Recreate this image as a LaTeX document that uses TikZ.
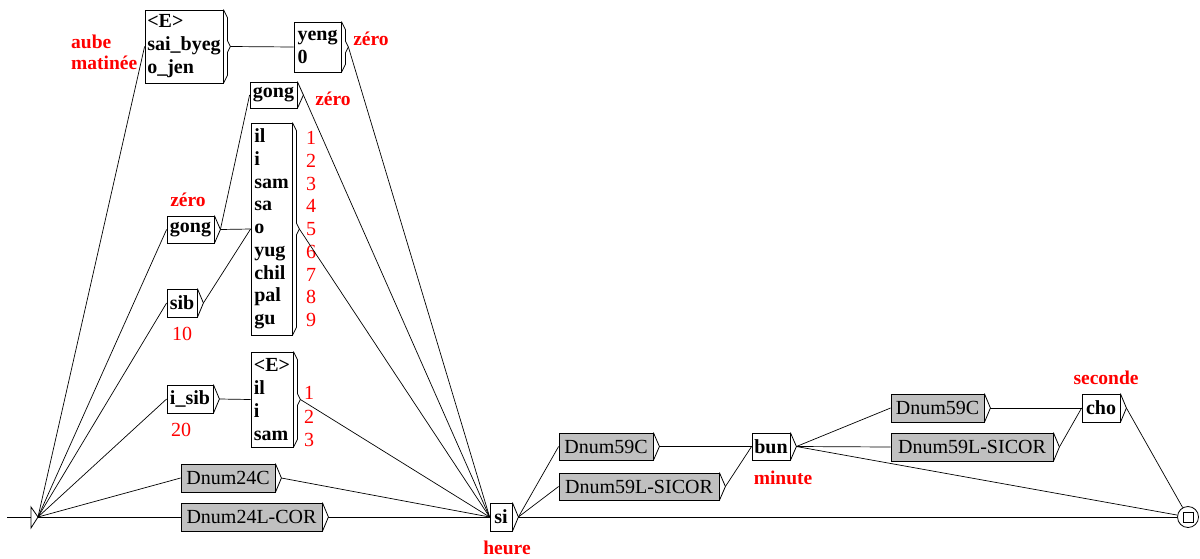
\documentclass[tikz,border=0pt]{standalone}
\usepackage{fontspec}
\setmainfont{Liberation Serif}
\usetikzlibrary{calc}
\definecolor{ugray}{RGB}{192,192,192}
\definecolor{ured}{RGB}{255,0,0}
\newcommand\chev[1]{\draw[boxline] (#1.north east) -- ($(#1.east)+(6,0)$) coordinate (#1t) -- (#1.south east);}
\newcommand\brk[1]{\draw[boxline] (#1.north east) -- ++(4,8) -- ($(#1.east)+(4,-6)$) -- ($(#1.east)+(7,0)$) coordinate (#1t) -- ($(#1.east)+(4,6)$) -- ($(#1.south east)+(4,-8)$) -- (#1.south east);}
\begin{document}
\begin{tikzpicture}[x=1pt,y=-1pt,
  boxline/.style={draw=black, line width=0.8pt},
  wbox/.style={draw=black, line width=0.8pt, fill=white, inner sep=0pt, font=\fontsize{20}{23}\selectfont\bfseries, align=left},
  gbox/.style={draw=black, line width=0.8pt, fill=ugray, inner sep=0pt, font=\fontsize{20}{23}\selectfont},
  lbl/.style={text=ured, font=\fontsize{19.5}{21}\selectfont\bfseries, inner sep=0pt},
  num/.style={text=ured, font=\fontsize{20}{23}\selectfont, inner sep=0pt, align=left},
  conn/.style={draw=black, line width=0.7pt},
]
\useasboundingbox (0,0) rectangle (1200,558);

% boxes
\node[wbox, minimum width=78pt, minimum height=73pt] (b1) at (184,46.5) {<E>\\sai\_byeg\\o\_jen};
\node[wbox, minimum width=47pt, minimum height=50pt] (yeng) at (317.5,47) {yeng\\0};
\node[wbox, minimum width=47pt, minimum height=26pt] (gA) at (273.5,95) {gong};
\node[wbox, minimum width=41pt, minimum height=212pt, font=\fontsize{20}{22.75}\selectfont\bfseries] (big) at (271.5,229) {il\\i\\sam\\sa\\o\\yug\\chil\\pal\\gu};
\node[wbox, minimum width=47pt, minimum height=27pt] (gB) at (190.5,229.5) {gong};
\node[wbox, minimum width=30pt, minimum height=28pt] (sib) at (182,303) {sib};
\node[wbox, minimum width=46pt, minimum height=28pt] (isib) at (190,399) {i\_sib};
\node[wbox, minimum width=42pt, minimum height=95pt, font=\fontsize{20}{23.3}\selectfont\bfseries] (sm) at (272,399.5) {<E>\\il\\i\\sam};
\node[gbox, minimum width=94pt, minimum height=28pt] (d24c) at (228,478) {Dnum24C};
\node[gbox, minimum width=141pt, minimum height=28pt] (d24l) at (251.5,517) {Dnum24L-COR};
\node[wbox, minimum width=22pt, minimum height=28pt] (si) at (501,517) {si};
\node[gbox, minimum width=94pt, minimum height=27pt] (d59c) at (606,446.5) {Dnum59C};
\node[gbox, minimum width=160pt, minimum height=27pt] (d59l) at (639,486.5) {Dnum59L-SICOR};
\node[wbox, minimum width=38pt, minimum height=27pt] (bun) at (771,446.5) {bun};
\node[gbox, minimum width=93pt, minimum height=28pt] (d59c2) at (937.5,408) {Dnum59C};
\node[gbox, minimum width=162pt, minimum height=28pt] (d59l2) at (972,447) {Dnum59L-SICOR};
\node[wbox, minimum width=38pt, minimum height=28pt] (cho) at (1101,408) {cho};

% final state
\node[circle, draw=black, line width=0.8pt, minimum size=21pt, inner sep=0pt] (fin) at (1188,517) {};
\node[draw=black, line width=0.8pt, minimum size=10pt, inner sep=0pt] (finsq) at (fin) {};

% brackets
\brk{b1} \brk{yeng} \brk{big} \brk{sm}
\chev{gA} \chev{gB} \chev{sib} \chev{isib} \chev{d24c} \chev{d24l} \chev{si}
\chev{d59c} \chev{d59l} \chev{bun} \chev{d59c2} \chev{d59l2} \chev{cho}

% start state
\coordinate (inL) at (7,517);
\coordinate (stL) at (31,517);
\coordinate (st) at (38,517);
\draw[boxline] (31,507) -- (st) -- (31,528) -- cycle;
\draw[conn] (inL) -- (stL);

% labels
\node[lbl, align=left, anchor=west] (aube) at (71,52.5) {aube\\matinée};
\node[lbl] (z1) at (371,39) {zéro};
\node[lbl] (z2) at (333,99) {zéro};
\node[lbl] (z3) at (188,200) {zéro};
\node[num] (n10) at (182,334) {10};
\node[num] (n20) at (181,430) {20};
\node[num, font=\fontsize{20}{22.75}\selectfont] (nums) at (311,229) {1\\2\\3\\4\\5\\6\\7\\8\\9};
\node[num, font=\fontsize{20}{23.5}\selectfont] (nums2) at (309,416.5) {1\\2\\3};
\node[lbl] (heure) at (507,548) {heure};
\node[lbl] (minute) at (783,478) {minute};
\node[lbl] (seconde) at (1106,378) {seconde};

% connectors
\draw[conn] (st) -- (b1.west);
\draw[conn] (st) -- (gB.west);
\draw[conn] (st) -- (sib.west);
\draw[conn] (st) -- (isib.west);
\draw[conn] (st) -- (d24c.west);
\draw[conn] (st) -- (d24l.west);
\draw[conn] (b1t) -- (yeng.west);
\draw[conn] (yengt) -- (si.west);
\draw[conn] (gBt) -- (gA.west);
\draw[conn] (gBt) -- (big.west);
\draw[conn] (sibt) -- (big.west);
\draw[conn] (gAt) -- (si.west);
\draw[conn] (bigt) -- (si.west);
\draw[conn] (isibt) -- (sm.west);
\draw[conn] (smt) -- (si.west);
\draw[conn] (d24ct) -- (si.west);
\draw[conn] (d24lt) -- (si.west);
\draw[conn] (sit) -- (d59c.west);
\draw[conn] (sit) -- (d59l.west);
\draw[conn] (sit) -- (fin);
\draw[conn] (d59ct) -- (bun.west);
\draw[conn] (d59lt) -- (bun.west);
\draw[conn] (bunt) -- (d59c2.west);
\draw[conn] (bunt) -- (d59l2.west);
\draw[conn] (bunt) -- (fin);
\draw[conn] (d59c2t) -- (cho.west);
\draw[conn] (d59l2t) -- (cho.west);
\draw[conn] (chot) -- (fin);
\end{tikzpicture}
\end{document}
